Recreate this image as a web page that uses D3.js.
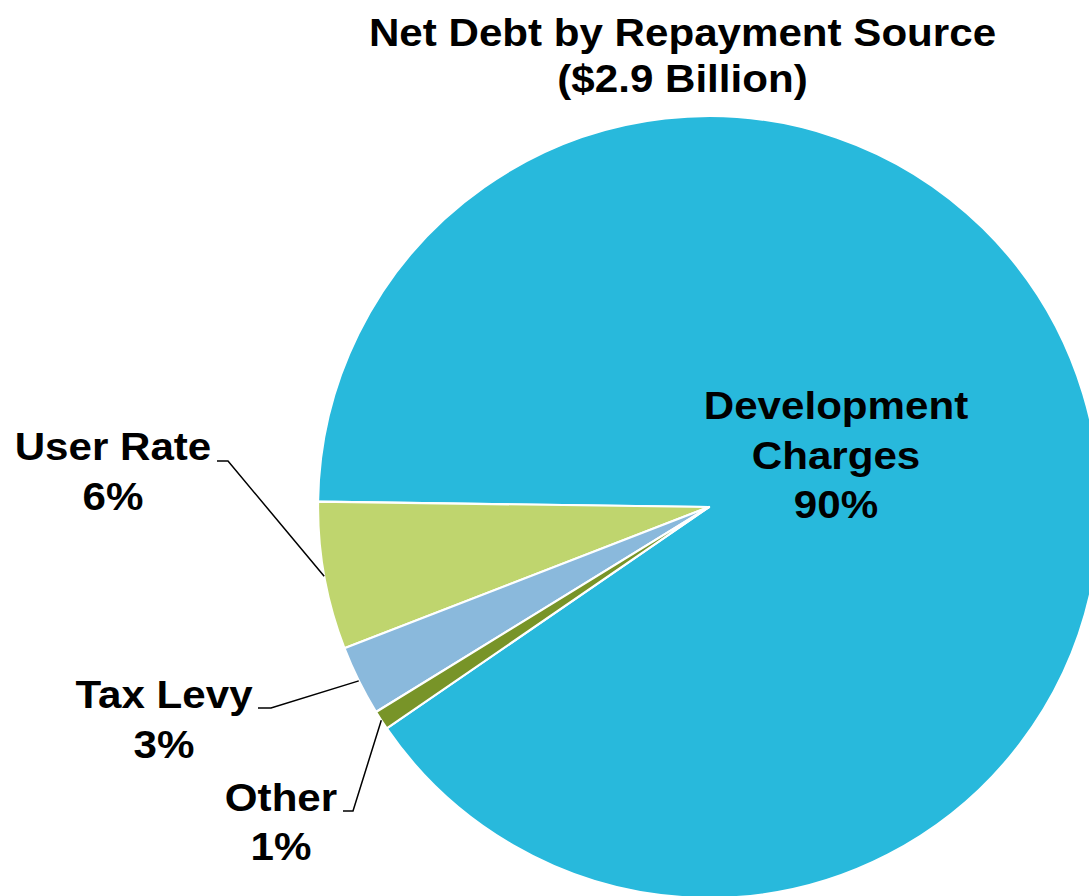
<!DOCTYPE html>
<html>
<head>
<meta charset="utf-8">
<script src="https://cdn.jsdelivr.net/npm/d3@7"></script>
<style>
  html, body { margin: 0; padding: 0; background: #ffffff; overflow: hidden; }
  svg { display: block; }
  text { font-family: "Liberation Sans", Arial, Helvetica, sans-serif; font-weight: bold; fill: #000; }
</style>
</head>
<body>
<svg id="chart" width="1089" height="896"></svg>
<script>
// ---- data ----
const titleLines = ["Net Debt by Repayment Source", "($2.9 Billion)"];
const categories = ["Development Charges", "User Rate", "Tax Levy", "Other"];
const values = [90.2, 6.1, 2.9, 0.8];
const labelNames = [["Development", "Charges"], ["User Rate"], ["Tax Levy"], ["Other"]];
const colors = ["#28b9dc", "#bfd56e", "#8ab9dc", "#789428"];

// ---- layout ----
const W = 1089, H = 896;
const cx = 709, cy = 507, R = 391;
const fontSize = 39, stretch = 1.08, lineH = 49.5;
const deg = Math.PI / 180;
const startDeg = 235.5;

const svg = d3.select("#chart");

const data = categories.map((c, i) => ({ name: c, value: values[i], lines: labelNames[i], color: colors[i] }));
const total = d3.sum(values);

const pie = d3.pie().sort(null).value(d => d.value)
  .startAngle(startDeg * deg).endAngle((startDeg - 360) * deg);
const arcs = pie(data);

const arc = d3.arc().innerRadius(0).outerRadius(R);
const edgeArc = d3.arc().innerRadius(R).outerRadius(R);

const g = svg.append("g").attr("transform", `translate(${cx},${cy})`);
g.selectAll("path.slice").data(arcs).enter().append("path")
  .attr("class", "slice")
  .attr("d", arc)
  .attr("fill", d => d.data.color)
  .attr("stroke", "#ffffff")
  .attr("stroke-width", 2.2)
  .attr("stroke-linejoin", "round");

function stretchedText(sel, x, y, str, anchor) {
  sel.append("text")
    .attr("transform", `translate(${x},${y}) scale(${stretch},1)`)
    .attr("text-anchor", anchor || "middle")
    .style("font-size", fontSize + "px")
    .text(str);
}

// title
stretchedText(svg, 682.5, 46, titleLines[0]);
stretchedText(svg, 682.5, 92, titleLines[1]);

const pct = v => Math.round(v / total * 100) + "%";

// label placement (layout only): center x, first baseline, elbow point for leader
const placement = {
  "Development Charges": { x: 836, y: 419, leader: false },
  "User Rate": { x: 113, y: 460, elbow: [228, 461], lineStart: 217 },
  "Tax Levy": { x: 164, y: 708, elbow: [271, 708], lineStart: 258 },
  "Other": { x: 281, y: 810.5, elbow: [353, 811], lineStart: 343 }
};

arcs.forEach(a => {
  const p = placement[a.data.name];
  const lines = a.data.lines.concat([pct(a.data.value)]);
  lines.forEach((ln, i) => stretchedText(svg, p.x, p.y + i * lineH, ln));
  if (p.elbow) {
    const c = edgeArc.centroid(a);
    const pts = [[p.lineStart, p.elbow[1]], p.elbow, [cx + c[0], cy + c[1]]];
    svg.append("path")
      .attr("d", d3.line()(pts))
      .attr("fill", "none")
      .attr("stroke", "#000")
      .attr("stroke-width", 1.5);
  }
});
</script>
</body>
</html>
